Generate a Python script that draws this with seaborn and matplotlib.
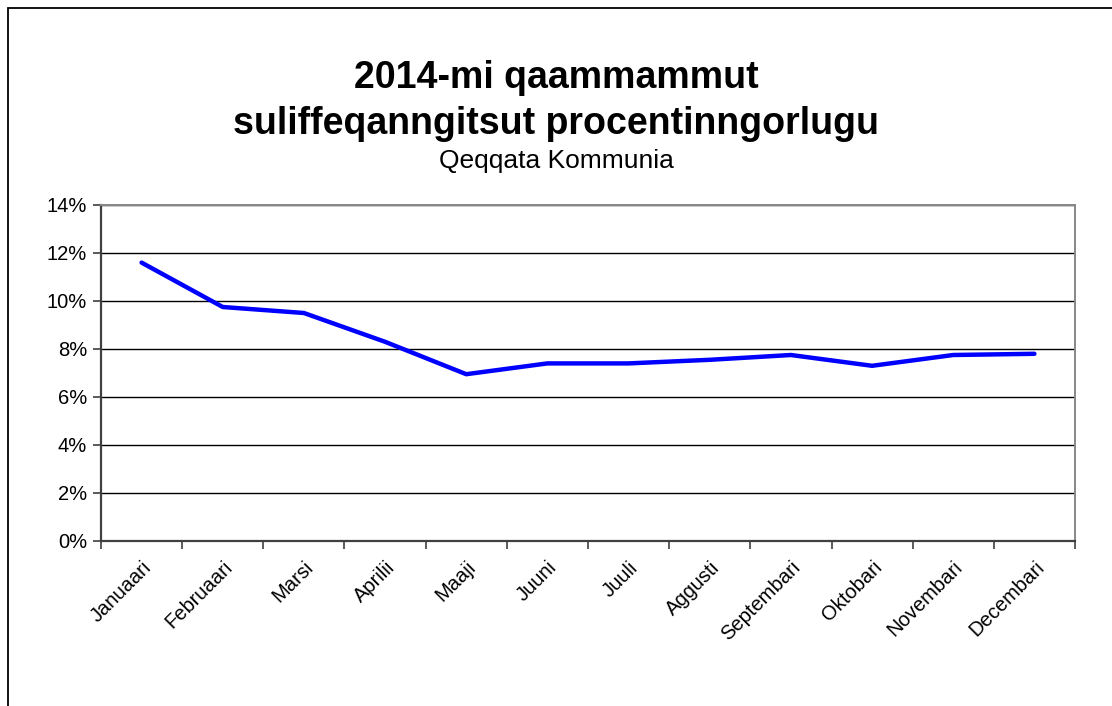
import numpy as np
import pandas as pd
import seaborn as sns
import matplotlib.pyplot as plt
from matplotlib.patches import Rectangle
from matplotlib.ticker import FixedLocator, PercentFormatter

months = ['Januaari', 'Februaari', 'Marsi', 'Aprilii', 'Maaji', 'Juuni',
          'Juuli', 'Aggusti', 'Septembari', 'Oktobari', 'Novembari', 'Decembari']
rate = [11.6, 9.75, 9.5, 8.3, 6.95, 7.4, 7.4, 7.55, 7.75, 7.3, 7.75, 7.8]
y_ticks = [0, 2, 4, 6, 8, 10, 12, 14]

sns.set_style('white')
plt.rcParams['font.family'] = ['Liberation Sans', 'DejaVu Sans']
plt.rcParams['text.color'] = 'black'
plt.rcParams['xtick.color'] = 'black'
plt.rcParams['ytick.color'] = 'black'

df = pd.DataFrame({'month': months, 'rate': rate})

fig = plt.figure(figsize=(11.12, 7.06), dpi=100)
# outer chart frame (runs off the right and bottom edge like the original)
fig.patches.append(Rectangle((8 / 1112, -0.05), 1.1, 1 - 8 / 706 + 0.05,
                             transform=fig.transFigure, fill=False,
                             edgecolor='black', linewidth=1.3, zorder=0))

ax = fig.add_axes([101 / 1112, 1 - 541 / 706, (1075 - 101) / 1112, (541 - 205) / 706])
pos = np.arange(len(months))
sns.lineplot(x=pos, y=df['rate'], color='#0000ff', linewidth=3.2, ax=ax)

ax.set_xlim(-0.5, len(months) - 0.5)
ax.set_ylim(0, 14)
ax.set_yticks(y_ticks)
ax.yaxis.set_major_formatter(PercentFormatter(decimals=0))
ax.yaxis.grid(True, color='black', linewidth=1)
ax.set_axisbelow(True)

# category boundaries get the ticks, centres get the labels
ax.xaxis.set_major_locator(FixedLocator(np.arange(-0.5, len(months), 1.0)))
ax.set_xticklabels([])
ax.xaxis.set_minor_locator(FixedLocator(pos))
ax.set_xticklabels(months, minor=True, rotation=45, ha='right',
                   rotation_mode='anchor', fontsize=14.5)
ax.tick_params(axis='x', which='major', bottom=True, length=6, width=1.2,
               color='#404040', direction='out')
ax.tick_params(axis='x', which='minor', length=0, pad=12, labelcolor='black')
ax.tick_params(axis='y', left=True, length=6, width=1.2, color='#404040',
               direction='out', labelsize=14.5, labelcolor='black', pad=4)
ax.set_xlabel('')
ax.set_ylabel('')

for side in ['left', 'bottom']:
    ax.spines[side].set_color('#404040')
    ax.spines[side].set_linewidth(1.6)
for side in ['top', 'right']:
    ax.spines[side].set_visible(True)
    ax.spines[side].set_color('#888888')
    ax.spines[side].set_linewidth(1.4)

fig.text(0.5, 1 - 78 / 706, '2014-mi qaammammut', ha='center', va='center',
         fontsize=27, fontweight='bold')
fig.text(0.5, 1 - 124 / 706, 'suliffeqanngitsut procentinngorlugu', ha='center',
         va='center', fontsize=27, fontweight='bold')
fig.text(0.5, 1 - 161 / 706, 'Qeqqata Kommunia', ha='center', va='center',
         fontsize=19)

fig.savefig('out.png', dpi=100)
